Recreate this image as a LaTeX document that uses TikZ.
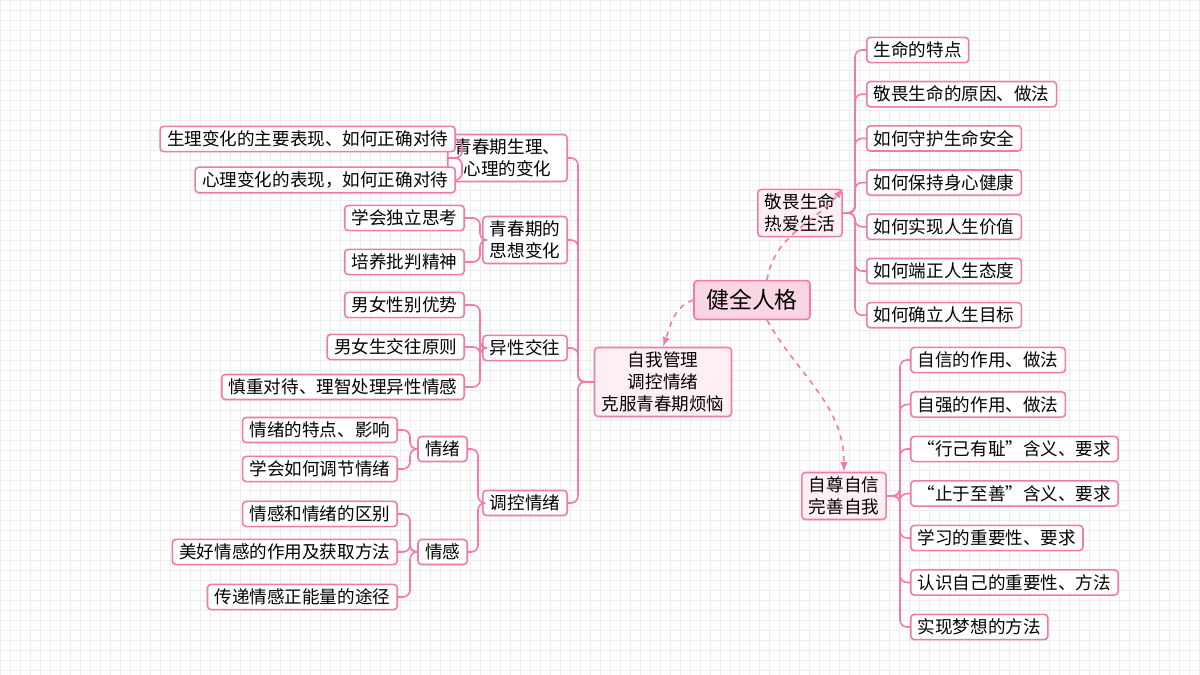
\documentclass[tikz,border=0pt]{standalone}
\usepackage{fontspec}
\setmainfont{Noto Sans CJK SC}
\definecolor{pinkline}{HTML}{F07AA8}
\definecolor{pinkfill}{HTML}{FDEFF4}
\definecolor{rootfill}{HTML}{FAD5E4}
\begin{document}
\begin{tikzpicture}[x=0.02cm,y=-0.02cm,
    box/.style={draw=pinkline,line width=0.9pt,rounded corners=2pt,fill=white,
      inner xsep=4pt,inner ysep=2.5pt,font=\fontsize{10}{12.5}\selectfont,align=center},
    mid/.style={box,fill=pinkfill},
    root/.style={box,fill=rootfill,font=\fontsize{13}{15}\selectfont,inner xsep=7pt,inner ysep=5pt},
    link/.style={pinkline,line width=0.9pt,rounded corners=4pt},
    dlink/.style={pinkline,line width=0.9pt,dashed,-latex}]
    \useasboundingbox (0,0) rectangle (1200,675);
    \draw[black!7,step=0.2cm] (0,0) grid (1200,675);
    % centre
    \node[root] (hub) at (752,300) {健全人格};
    \node[mid] (self) at (663,382) {自我管理\\调控情绪\\克服青春期烦恼};
    \node[mid] (life) at (800,213) {敬畏生命\\热爱生活};
    \node[mid] (conf) at (844,496) {自尊自信\\完善自我};
    \draw[dlink] (hub.west) to[out=200,in=70] (self.north);
    \draw[dlink] (hub.north) ++(15,0) to[out=80,in=230] (life.east |- life.north);
    \draw[dlink] (hub.south) ++(15,0) to[out=-60,in=90] (conf.north);
    % right top
    \foreach \t [count=\i] in {生命的特点,敬畏生命的原因、做法,如何守护生命安全,
        如何保持身心健康,如何实现人生价值,如何端正人生态度,如何确立人生目标}{
      \node[box,anchor=west] (l\i) at (866,{50+44.2*(\i-1)}) {\t};
      \draw[link] (life.east) -- (855,213) |- (l\i.west);
    }
    % right bottom
    \foreach \t [count=\i] in {自信的作用、做法,自强的作用、做法,“行己有耻”含义、要求,
        “止于至善”含义、要求,学习的重要性、要求,认识自己的重要性、方法,实现梦想的方法}{
      \node[box,anchor=west] (c\i) at (910,{360+44.5*(\i-1)}) {\t};
      \draw[link] (conf.east) -- (900,496) |- (c\i.west);
    }
    % left second level
    \node[box,anchor=east] (body) at (568,158) {青春期生理、\\心理的变化};
    \node[box,anchor=east] (mind) at (568,240) {青春期的\\思想变化};
    \node[box,anchor=east] (mate) at (568,348) {异性交往};
    \node[box,anchor=east] (emo) at (568,503) {调控情绪};
    \foreach \n in {body,mind,mate,emo}
      \draw[link] (self.west) -- (578,382) |- (\n.east);
    % third level
    \node[box,anchor=east] (b1) at (456,139) {生理变化的主要表现、如何正确对待};
    \node[box,anchor=east] (b2) at (456,180) {心理变化的表现，如何正确对待};
    \node[box,anchor=east] (m1) at (465,218) {学会独立思考};
    \node[box,anchor=east] (m2) at (465,262) {培养批判精神};
    \node[box,anchor=east] (s1) at (465,305) {男女性别优势};
    \node[box,anchor=east] (s2) at (465,347) {男女生交往原则};
    \node[box,anchor=east] (s3) at (465,387) {慎重对待、理智处理异性情感};
    \node[box,anchor=east] (mood) at (468,449) {情绪};
    \node[box,anchor=east] (feel) at (468,552) {情感};
    \foreach \n in {b1,b2}
      \draw[link] (body.west) -- (462,158) |- (\n.east);
    \foreach \n in {m1,m2}
      \draw[link] (mind.west) -- (480,240) |- (\n.east);
    \foreach \n in {s1,s2,s3}
      \draw[link] (mate.west) -- (480,348) |- (\n.east);
    \foreach \n in {mood,feel}
      \draw[link] (emo.west) -- (478,503) |- (\n.east);
    % fourth level
    \node[box,anchor=east] (e1) at (398,430) {情绪的特点、影响};
    \node[box,anchor=east] (e2) at (398,469) {学会如何调节情绪};
    \node[box,anchor=east] (f1) at (398,514) {情感和情绪的区别};
    \node[box,anchor=east] (f2) at (398,552) {美好情感的作用及获取方法};
    \node[box,anchor=east] (f3) at (398,597) {传递情感正能量的途径};
    \foreach \n in {e1,e2}
      \draw[link] (mood.west) -- (410,449) |- (\n.east);
    \foreach \n in {f1,f2,f3}
      \draw[link] (feel.west) -- (410,552) |- (\n.east);
\end{tikzpicture}
\end{document}
